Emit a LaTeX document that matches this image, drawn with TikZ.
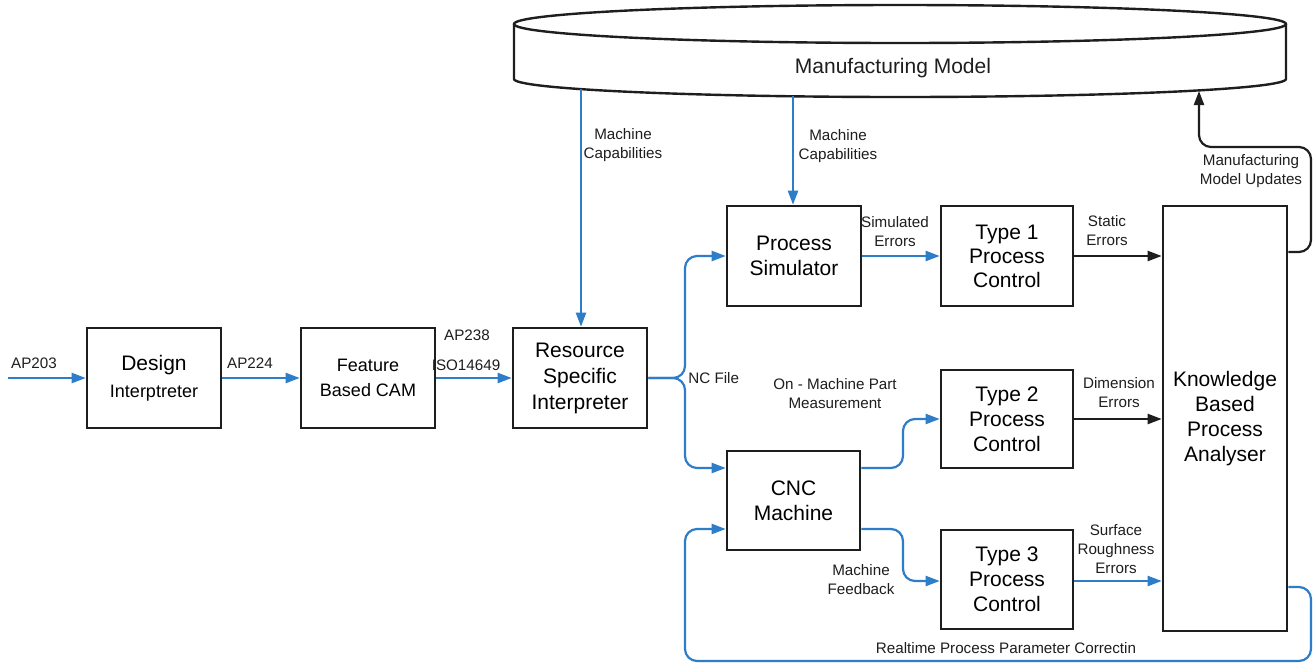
\documentclass[tikz,border=0pt]{standalone}
\usepackage{fontspec}
\setmainfont{Liberation Sans}
\usetikzlibrary{arrows.meta}
\definecolor{flowblue}{RGB}{45,125,200}
\definecolor{ink}{RGB}{30,30,30}
\begin{document}
\begin{tikzpicture}[x=0.5pt,y=-0.5pt,
  box/.style={draw=ink, line width=1.3pt, fill=white, inner sep=0pt, align=center,
    font=\fontsize{10.5pt}{12.5pt}\selectfont},
  lbl/.style={inner sep=0pt, align=center, text=ink, font=\fontsize{7.6pt}{9.5pt}\selectfont},
  bflow/.style={draw=flowblue, line width=1.1pt, -{Triangle[length=7pt,width=5pt]}},
  kflow/.style={draw=ink, line width=1.1pt, -{Triangle[length=7pt,width=5pt]}},
  rc/.style={rounded corners=6pt}
]
\useasboundingbox (0,0) rectangle (1314,665);
\fill[white] (0,0) rectangle (1314,665);

% Manufacturing Model cylinder
\draw[ink, line width=1.2pt, fill=white] (514,24) -- (514,79)
  arc[start angle=180, end angle=0, x radius=386, y radius=18] -- (1286,24);
\draw[ink, line width=1.2pt, fill=white] (900,24) ellipse [x radius=386, y radius=19];
\node[inner sep=0pt, text=ink, font=\fontsize{10.5pt}{12.5pt}\selectfont] (mm) at (893,68) {Manufacturing Model};
\coordinate (cylA) at (581,89);
\coordinate (cylB) at (793,96);
\coordinate (cylC) at (1199,91);

% boxes
\node[box, minimum width=67pt, minimum height=50pt] (design) at (154,378)
  {\fontsize{10.5pt}{12.5pt}\selectfont Design\\[1pt]{\fontsize{9pt}{11pt}\selectfont Interptreter}};
\node[box, minimum width=67pt, minimum height=50pt, font=\fontsize{9pt}{12.5pt}\selectfont] (feature) at (368,378)
  {Feature\\Based CAM};
\node[box, minimum width=67pt, minimum height=50pt, font=\fontsize{10.5pt}{13pt}\selectfont] (resource) at (580,378)
  {Resource\\Specific\\Interpreter};
\node[box, minimum width=67pt, minimum height=50pt] (procsim) at (794,256)
  {Process\\Simulator};
\node[box, minimum width=66pt, minimum height=50pt, font=\fontsize{10.5pt}{12pt}\selectfont] (type1) at (1007,256)
  {Type 1\\Process\\Control};
\node[box, minimum width=66pt, minimum height=49pt, font=\fontsize{10.5pt}{12.5pt}\selectfont] (type2) at (1007,419)
  {Type 2\\Process\\Control};
\node[box, minimum width=66.5pt, minimum height=49.5pt] (cnc) at (793.5,500.5)
  {CNC\\Machine};
\node[box, minimum width=66pt, minimum height=49.5pt, font=\fontsize{10.5pt}{12.5pt}\selectfont] (type3) at (1007,579.5)
  {Type 3\\Process\\Control};
\node[box, minimum width=62pt, minimum height=212.5pt] (know) at (1225,418.5)
  {Knowledge\\Based\\Process\\Analyser};

% input
\coordinate (inp) at (8,378);
\draw[bflow] (inp) -- (design.west);
\node[lbl] (l203) at (34,363) {AP203};
\draw[bflow] (design.east) -- (feature.west);
\node[lbl] (l224) at (250,363) {AP224};
\draw[bflow] (feature.east) -- (resource.west);
\node[lbl] (l238) at (467,335) {AP238};
\node[lbl] (liso) at (466,365) {ISO14649};

% machine capabilities
\draw[bflow] (cylA) -- (cylA |- resource.north);
\node[lbl] (mc1) at (623,145) {Machine\\Capabilities};
\draw[bflow] (cylB) -- (cylB |- procsim.north);
\node[lbl] (mc2) at (838,146) {Machine\\Capabilities};

% NC file
\coordinate (nc) at (685,378);
\draw[bflow, rc] (resource.east) -- (nc) -- (685,256) -- (procsim.west);
\draw[bflow, rc] (resource.east) -- (nc) -- (685,468) -- (cnc.west |- 0,468);
\node[lbl, anchor=west] (ncf) at (688,378) {NC File};

% simulator to type 1
\draw[bflow] (procsim.east) -- (type1.west);
\node[lbl] (simerr) at (895,232) {Simulated\\Errors};
\draw[kflow] (type1.east) -- (type1.east -| know.west);
\node[lbl] (staterr) at (1107,231) {Static\\Errors};

% CNC to type 2
\draw[bflow, rc] (cnc.east |- 0,468) -- (903,468) -- (903,419) -- (type2.west);
\node[lbl] (onm) at (835,394) {On - Machine Part\\Measurement};
\draw[kflow] (type2.east) -- (type2.east -| know.west);
\node[lbl] (dimerr) at (1119,393) {Dimension\\Errors};

% CNC to type 3
\draw[bflow, rc] (cnc.east |- 0,529) -- (903,529) -- (903,581) -- (type3.west |- 0,581);
\node[lbl] (mfb) at (861,580) {Machine\\Feedback};
\draw[bflow] (type3.east |- 0,581) -- (know.west |- 0,581);
\node[lbl] (surf) at (1116,549) {Surface\\Roughness\\Errors};

% updates back to model
\draw[kflow, rc] (know.east |- 0,252) -- (1311,252) -- (1311,147) -- (1199,147) -- (cylC);
\node[lbl] (mmu) at (1251,171) {Manufacturing\\Model Updates};

% realtime loop
\draw[bflow, rc] (know.east |- 0,587) -- (1311,587) -- (1311,661) -- (685,661) -- (685,529) -- (cnc.west |- 0,529);
\node[lbl] (rt) at (1006,648) {Realtime Process Parameter Correctin};
\end{tikzpicture}
\end{document}
